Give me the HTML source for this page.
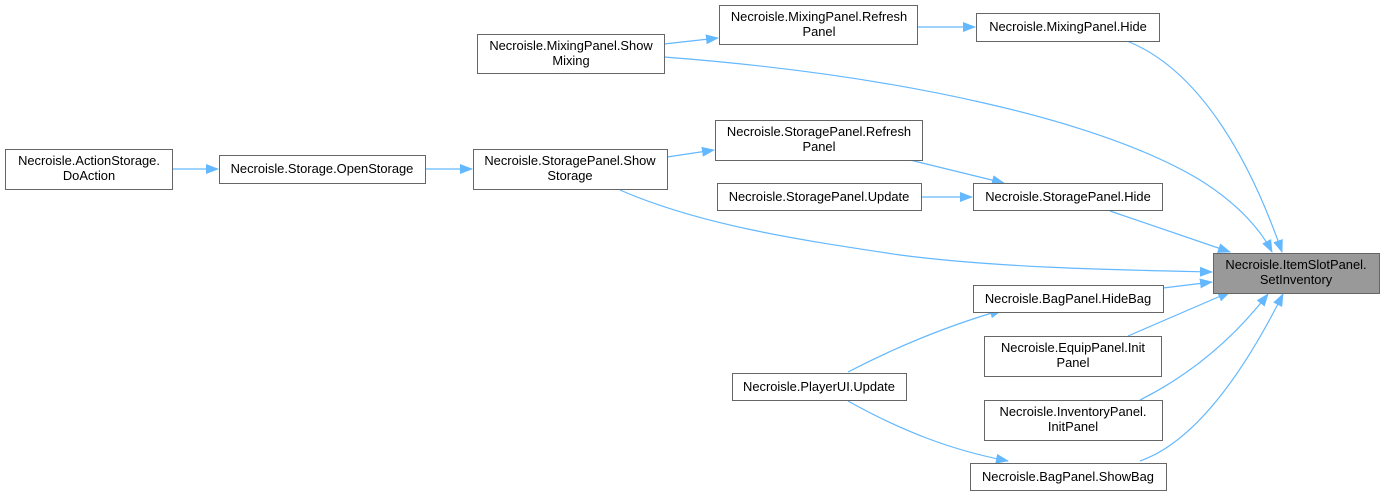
<!DOCTYPE html>
<html><head><meta charset="utf-8"><style>
html,body{margin:0;padding:0;background:#fff;width:1384px;height:495px;overflow:hidden}
text{font-family:"Liberation Sans",sans-serif;font-size:12.9px;fill:#000}
</style></head><body>
<svg width="1384" height="495" viewBox="0 0 1384 495" xmlns="http://www.w3.org/2000/svg">
<defs>
<marker id="a" markerWidth="13" markerHeight="10" refX="12" refY="5" orient="auto" markerUnits="userSpaceOnUse">
<path d="M0,0 L13,5 L0,10 z" fill="#63b8ff"/>
</marker>
</defs>
<g fill="none" stroke="#63b8ff" stroke-width="1.2" marker-end="url(#a)">
<path d="M172,169 L218,169"/>
<path d="M425,169 L472,169"/>
<path d="M664,44 L718,38"/>
<path d="M917,27 L975,27"/>
<path d="M1127,41 C1200,70 1250,160 1282,252"/>
<path d="M664,57 C900,75 1100,120 1200,180 C1240,205 1262,232 1272,252"/>
<path d="M667,157 L714,150"/>
<path d="M910,160 L1004,183"/>
<path d="M921,197 L972,197"/>
<path d="M1110,211 L1230,252"/>
<path d="M620,190 C700,225 800,240 900,255 C1000,268 1120,270 1212,272"/>
<path d="M1163,288 L1212,282"/>
<path d="M848,372 C900,345 950,325 1002,310"/>
<path d="M1128,336 L1230,292"/>
<path d="M1140,400 C1200,370 1240,330 1268,294"/>
<path d="M848,401 C900,430 950,450 1008,461"/>
<path d="M1140,461 C1200,440 1250,360 1283,294"/>
</g>
<g stroke="#666" stroke-width="1" fill="#fff">
<rect x="5.5" y="149.5" width="167" height="40"/>
<rect x="219.5" y="155.5" width="206" height="28"/>
<rect x="473.5" y="149.5" width="194" height="40"/>
<rect x="477.5" y="34.5" width="187" height="39"/>
<rect x="719.5" y="5.5" width="198" height="39"/>
<rect x="976.5" y="13.5" width="183" height="28"/>
<rect x="715.5" y="120.5" width="207" height="40"/>
<rect x="717.5" y="183.5" width="204" height="27"/>
<rect x="973.5" y="183.5" width="189" height="27"/>
<rect x="1213.5" y="253.5" width="166" height="40" fill="#999"/>
<rect x="973.5" y="285.5" width="190" height="27"/>
<rect x="984.5" y="336.5" width="177" height="40"/>
<rect x="984.5" y="400.5" width="178" height="40"/>
<rect x="732.5" y="373.5" width="174" height="27"/>
<rect x="970.5" y="463.5" width="196" height="27"/>
</g>
<g text-anchor="middle">
<text x="89" y="165">Necroisle.ActionStorage.</text><text x="89" y="180">DoAction</text>
<text x="322" y="173">Necroisle.Storage.OpenStorage</text>
<text x="570" y="165">Necroisle.StoragePanel.Show</text><text x="570" y="180">Storage</text>
<text x="571" y="50">Necroisle.MixingPanel.Show</text><text x="571" y="65">Mixing</text>
<text x="819" y="21">Necroisle.MixingPanel.Refresh</text><text x="819" y="36">Panel</text>
<text x="1068" y="31">Necroisle.MixingPanel.Hide</text>
<text x="819" y="136">Necroisle.StoragePanel.Refresh</text><text x="819" y="151">Panel</text>
<text x="819" y="201">Necroisle.StoragePanel.Update</text>
<text x="1068" y="201">Necroisle.StoragePanel.Hide</text>
<text x="1296" y="269">Necroisle.ItemSlotPanel.</text><text x="1296" y="284">SetInventory</text>
<text x="1068" y="303">Necroisle.BagPanel.HideBag</text>
<text x="1073" y="352">Necroisle.EquipPanel.Init</text><text x="1073" y="367">Panel</text>
<text x="1073" y="416">Necroisle.InventoryPanel.</text><text x="1073" y="431">InitPanel</text>
<text x="819" y="391">Necroisle.PlayerUI.Update</text>
<text x="1068" y="481">Necroisle.BagPanel.ShowBag</text>
</g>
</svg>
</body></html>
